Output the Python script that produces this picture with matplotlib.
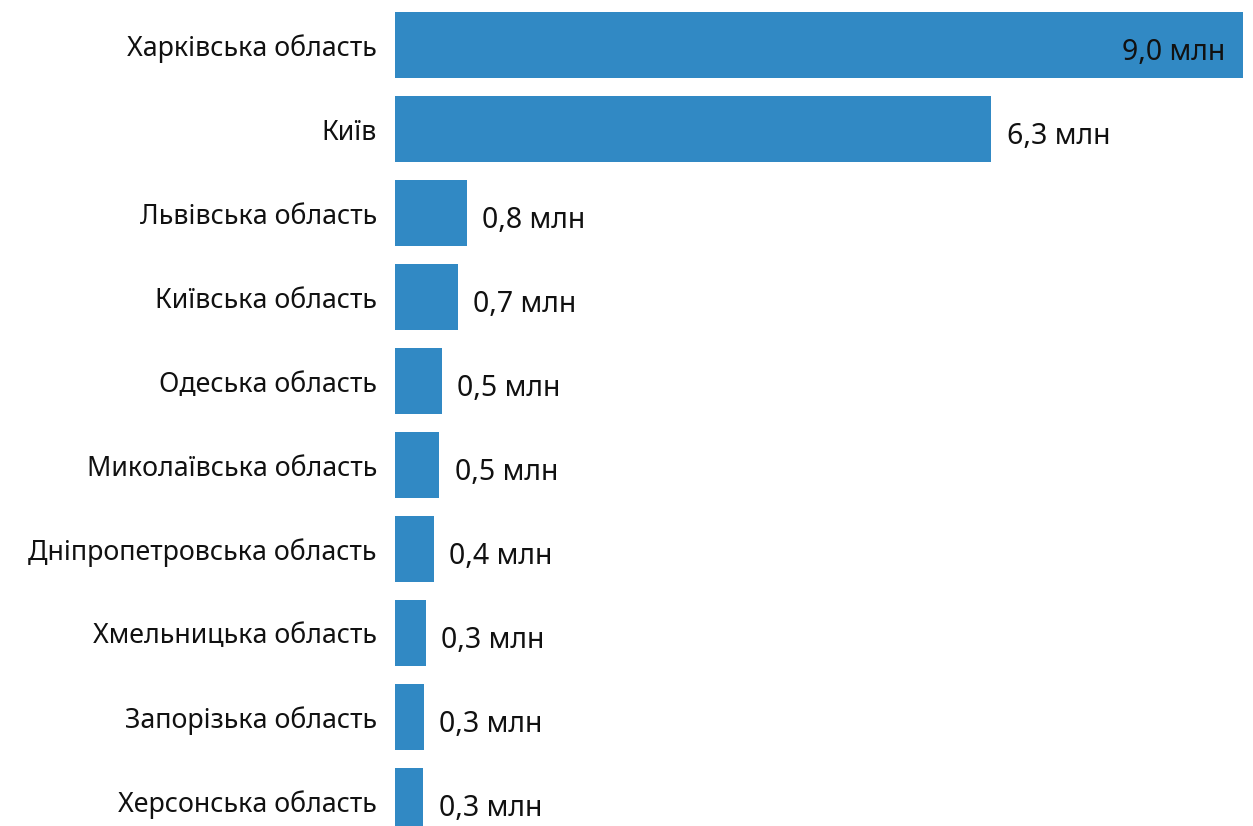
import matplotlib
matplotlib.use("Agg")
from matplotlib import pyplot as plt

plt.rcParams['font.family'] = ['Noto Sans', 'DejaVu Sans']

regions = ["Харківська область", "Київ", "Львівська область", "Київська область",
           "Одеська область", "Миколаївська область", "Дніпропетровська область",
           "Хмельницька область", "Запорізька область", "Херсонська область"]
values = [9.0, 6.33, 0.76, 0.67, 0.50, 0.47, 0.41, 0.33, 0.31, 0.30]
value_labels = ["9,0 млн", "6,3 млн", "0,8 млн", "0,7 млн", "0,5 млн",
                "0,5 млн", "0,4 млн", "0,3 млн", "0,3 млн", "0,3 млн"]

fig = plt.figure(figsize=(12.53, 8.26), dpi=100)
ax = fig.add_axes([395 / 1253, 0, (1243 - 395) / 1253, 1])

pos = list(range(len(regions)))
bars = ax.barh(pos, values, height=0.786, color="#3189C4")

ax.set_xlim(0, 9.0)
ax.set_ylim((826 - 45) / 84, -45 / 84)

ax.set_yticks(pos)
ax.set_yticklabels(regions, fontsize=19.3, color="#111111")
ax.tick_params(axis="y", length=0, pad=13)
ax.set_xticks([])
for s in ax.spines.values():
    s.set_visible(False)

for i, (v, lab) in enumerate(zip(values, value_labels)):
    if i == 0:
        ax.annotate(lab, (v, i), xytext=(-13, -5.5), textcoords="offset points",
                    ha="right", va="center", fontsize=20.5, color="#111111")
    else:
        ax.annotate(lab, (v, i), xytext=(11, -5.5), textcoords="offset points",
                    ha="left", va="center", fontsize=20.5, color="#111111")

fig.savefig("out.png", dpi=100)
